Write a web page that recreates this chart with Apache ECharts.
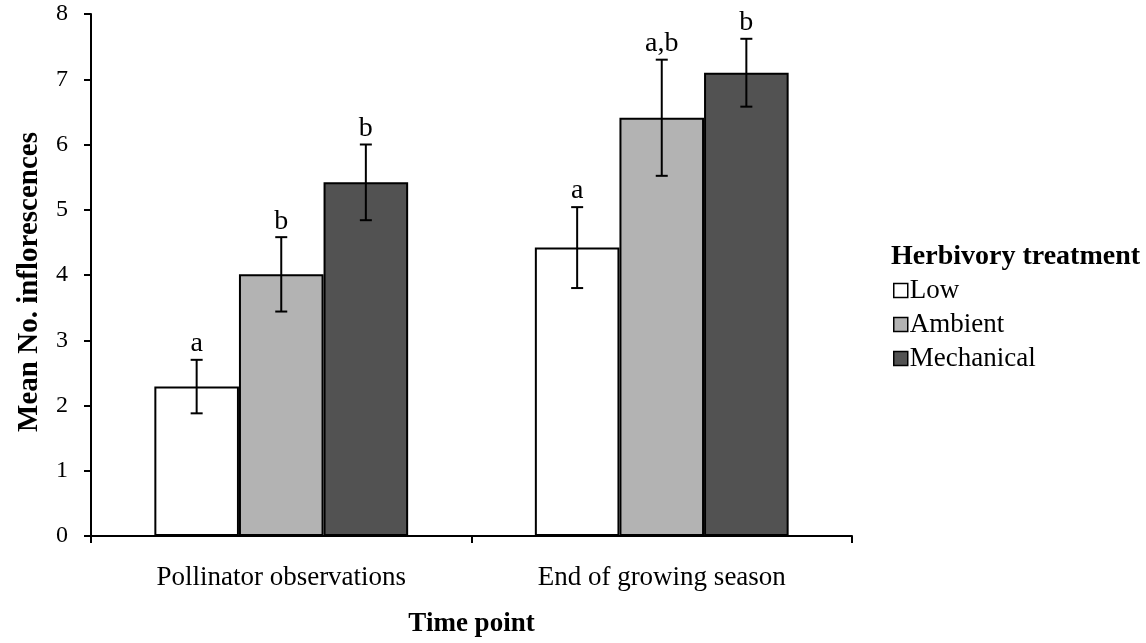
<!DOCTYPE html>
<html>
<head>
<meta charset="utf-8">
<script src="https://cdn.jsdelivr.net/npm/echarts@6/dist/echarts.min.js"></script>
<style>
html,body{margin:0;padding:0;background:#fff;}
#chart{width:1146px;height:643px;}
</style>
</head>
<body>
<div id="chart"></div>
<script>
var categories = ['Pollinator observations', 'End of growing season'];
var treatments = ['Low', 'Ambient', 'Mechanical'];
var lowMeans = [2.29, 4.42];
var ambientMeans = [4.01, 6.41];
var mechanicalMeans = [5.42, 7.10];
var lowErr = [0.41, 0.62];
var ambientErr = [0.57, 0.89];
var mechanicalErr = [0.58, 0.52];
var lowLetters = ['a', 'a'];
var ambientLetters = ['b', 'a,b'];
var mechanicalLetters = ['b', 'b'];
var yTicks = [0, 1, 2, 3, 4, 5, 6, 7, 8];

var means = [lowMeans, ambientMeans, mechanicalMeans];
var errs = [lowErr, ambientErr, mechanicalErr];
var letters = [lowLetters, ambientLetters, mechanicalLetters];
var colors = ['#ffffff', '#b3b3b3', '#525252'];
var FONT = '"Liberation Serif", "Times New Roman", serif';
var GAP = 0.333;

var chart = echarts.init(document.getElementById('chart'), null, {renderer: 'canvas'});

var series = [];
treatments.forEach(function (t, k) {
  series.push({
    name: t,
    type: 'bar',
    data: means[k],
    barGap: '0%',
    barCategoryGap: (GAP * 100) + '%',
    itemStyle: {color: colors[k], borderColor: '#000', borderWidth: 2},
    emphasis: {disabled: true},
    z: 2
  });
});
treatments.forEach(function (t, k) {
  series.push({
    type: 'custom',
    data: categories.map(function (c, i) { return [i, means[k][i], errs[k][i]]; }),
    encode: {x: 0, y: 1},
    z: 5,
    silent: true,
    renderItem: function (params, api) {
      var ci = api.value(0), m = api.value(1), e = api.value(2);
      var band = api.size([1, 0])[0];
      var bw = band * (1 - GAP) / 3;
      var center = api.coord([ci, m]);
      var x = center[0] + (k - 1) * bw;
      var top = api.coord([ci, m + e])[1];
      var bot = api.coord([ci, m - e])[1];
      var cap = 6;
      var st = {stroke: '#000', lineWidth: 2};
      return {
        type: 'group',
        children: [
          {type: 'line', shape: {x1: x, y1: top, x2: x, y2: bot}, style: st},
          {type: 'line', shape: {x1: x - cap, y1: top, x2: x + cap, y2: top}, style: st},
          {type: 'line', shape: {x1: x - cap, y1: bot, x2: x + cap, y2: bot}, style: st},
          {type: 'text', style: {text: letters[k][params.dataIndex], x: x, y: top - 2,
            textAlign: 'center', textVerticalAlign: 'bottom', fill: '#000',
            font: '28px ' + FONT}}
        ]
      };
    }
  });
});

chart.setOption({
  animation: false,
  backgroundColor: '#fff',
  title: {
    text: 'Herbivory treatment',
    left: 891, top: 243,
    padding: 0,
    textStyle: {fontFamily: FONT, fontWeight: 'bold', fontSize: 28, color: '#000'}
  },
  legend: {
    data: treatments,
    orient: 'vertical',
    left: 893, top: 277,
    padding: 0,
    itemGap: 7,
    itemWidth: 14, itemHeight: 14,
    icon: 'rect',
    itemStyle: {borderColor: '#000', borderWidth: 1.5},
    textStyle: {fontFamily: FONT, fontSize: 27, color: '#000', padding: [0, 0, 0, -3]},
    selectedMode: false
  },
  grid: {left: 91, right: 294, top: 14, bottom: 106, containLabel: false},
  xAxis: {
    type: 'category',
    data: categories,
    name: 'Time point',
    nameLocation: 'middle',
    nameGap: 75,
    nameTextStyle: {fontFamily: FONT, fontWeight: 'bold', fontSize: 27, color: '#000'},
    axisLine: {lineStyle: {color: '#000', width: 2}},
    axisTick: {show: true, length: 7, lineStyle: {color: '#000', width: 2}},
    axisLabel: {fontFamily: FONT, fontSize: 27, color: '#000', margin: 28},
    splitLine: {show: false}
  },
  yAxis: {
    type: 'value',
    min: yTicks[0], max: yTicks[yTicks.length - 1], interval: 1,
    name: 'Mean No. inflorescences',
    nameLocation: 'middle',
    nameGap: 47,
    nameTextStyle: {fontFamily: FONT, fontWeight: 'bold', fontSize: 29, color: '#000', padding: [0, 14, 0, 0]},
    axisLine: {show: true, lineStyle: {color: '#000', width: 2}},
    axisTick: {show: true, length: 7, lineStyle: {color: '#000', width: 2}},
    axisLabel: {fontFamily: FONT, fontSize: 24, color: '#000', margin: 23},
    splitLine: {show: false}
  },
  series: series
});
</script>
</body>
</html>
